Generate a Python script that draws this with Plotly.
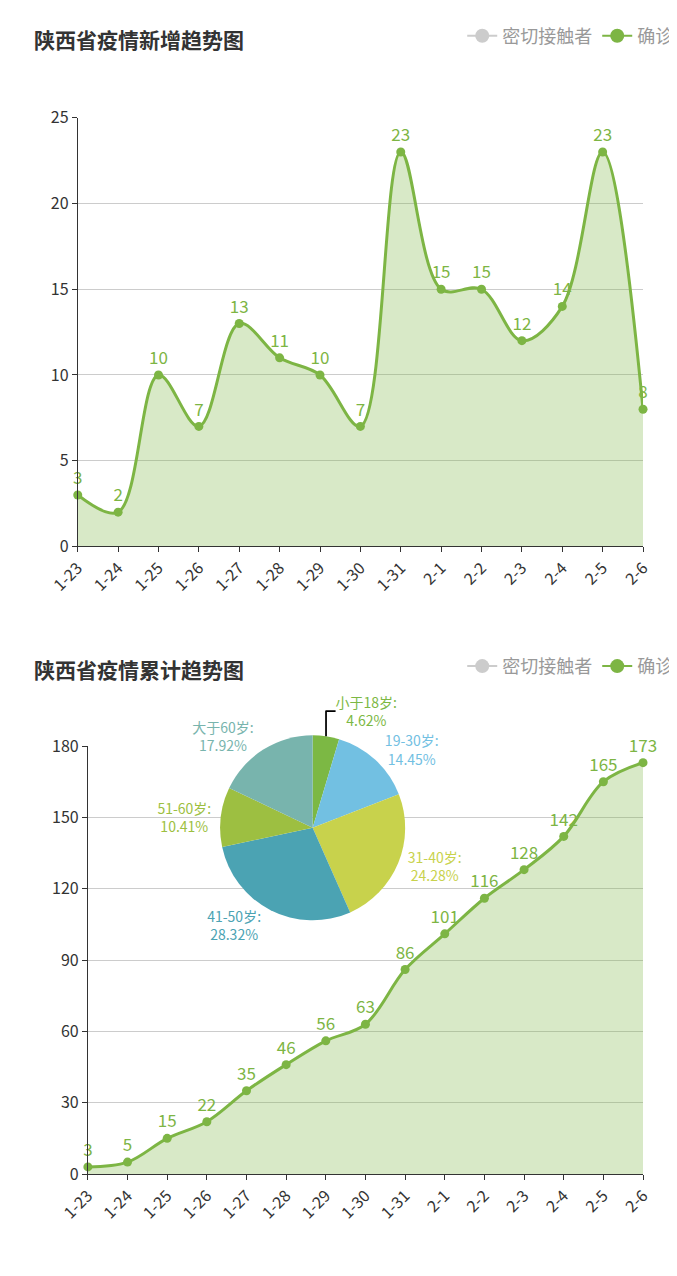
import plotly.graph_objects as go

dates = ["1-23", "1-24", "1-25", "1-26", "1-27", "1-28", "1-29", "1-30",
         "1-31", "2-1", "2-2", "2-3", "2-4", "2-5", "2-6"]
new_cases = [3, 2, 10, 7, 13, 11, 10, 7, 23, 15, 15, 12, 14, 23, 8]
total_cases = [3, 5, 15, 22, 35, 46, 56, 63, 86, 101, 116, 128, 142, 165, 173]
age_labels = ["小于18岁", "19-30岁", "31-40岁", "41-50岁", "51-60岁", "大于60岁"]
age_pct = [4.62, 14.45, 24.28, 28.32, 10.41, 17.92]
age_colors = ["#7cb844", "#72c0e2", "#c8d24c", "#4ba3b3", "#9dbf41", "#78b4ad"]

GREEN = "#7db544"
FILL = "rgba(125,181,68,0.3)"
FONT = "Noto Sans CJK SC"

fig = go.Figure()

for xa, ya, vals, lg in [("x", "y", new_cases, "legend"), ("x2", "y2", total_cases, "legend2")]:
    fig.add_trace(go.Scatter(
        x=dates, y=vals, xaxis=xa, yaxis=ya, mode="lines+markers+text",
        line=dict(color=GREEN, width=3, shape="spline", smoothing=1.0),
        marker=dict(size=9, color=GREEN), fill="tozeroy", fillcolor=FILL,
        text=[str(v) for v in vals], textposition="top center",
        textfont=dict(size=17, color=GREEN), showlegend=False, cliponaxis=False))
    fig.add_trace(go.Scatter(x=[None], y=[None], xaxis=xa, yaxis=ya, mode="lines+markers",
                             name="密切接触者", line=dict(color="#cccccc", width=2),
                             marker=dict(size=14, color="#cccccc"), legend=lg))
    fig.add_trace(go.Scatter(x=[None], y=[None], xaxis=xa, yaxis=ya, mode="lines+markers",
                             name="确诊", line=dict(color=GREEN, width=2),
                             marker=dict(size=14, color=GREEN), legend=lg))

fig.add_trace(go.Pie(
    labels=age_labels, values=age_pct, sort=False, direction="clockwise", rotation=0,
    marker=dict(colors=age_colors, line=dict(color="white", width=0)),
    texttemplate="%{label}:<br>%{value:.2f}%", textposition="outside",
    textfont=dict(size=14, color=age_colors), automargin=False,
    domain=dict(x=[0.31, 0.59], y=[0.285, 0.43]), showlegend=False))

axis_common = dict(showline=True, linecolor="#333", ticks="outside", tickcolor="#333",
                   tickfont=dict(size=16, color="#333"), automargin=False)
fig.update_layout(
    width=677, height=1276, margin=dict(l=0, r=0, t=0, b=0, autoexpand=False),
    plot_bgcolor="white", paper_bgcolor="white", font=dict(family=FONT, color="#333"),
    xaxis=dict(domain=[0.103, 0.938], anchor="y", tickangle=-45, showgrid=False,
               range=[0, 14], **axis_common),
    yaxis=dict(domain=[0.578, 0.914], anchor="x", range=[0, 25], dtick=5,
               gridcolor="#cccccc", **axis_common),
    xaxis2=dict(domain=[0.118, 0.938], anchor="y2", tickangle=-45, showgrid=False,
                range=[0, 14], **axis_common),
    yaxis2=dict(domain=[0.0862, 0.4216], anchor="x2", range=[0, 180], dtick=30,
                gridcolor="#cccccc", **axis_common),
    legend=dict(orientation="h", x=0.99, xanchor="right", y=0.978, yanchor="middle",
                font=dict(size=18, color="#999"), bgcolor="rgba(0,0,0,0)"),
    legend2=dict(orientation="h", x=0.99, xanchor="right", y=0.484, yanchor="middle",
                 font=dict(size=18, color="#999"), bgcolor="rgba(0,0,0,0)"),
    annotations=[
        dict(text="<b>陕西省疫情新增趋势图</b>", x=0.035, y=0.976, xref="paper", yref="paper",
             xanchor="left", yanchor="middle", showarrow=False, font=dict(size=21, color="#333")),
        dict(text="<b>陕西省疫情累计趋势图</b>", x=0.035, y=0.482, xref="paper", yref="paper",
             xanchor="left", yanchor="middle", showarrow=False, font=dict(size=21, color="#333")),
    ],
)

fig.write_html("out.html")
